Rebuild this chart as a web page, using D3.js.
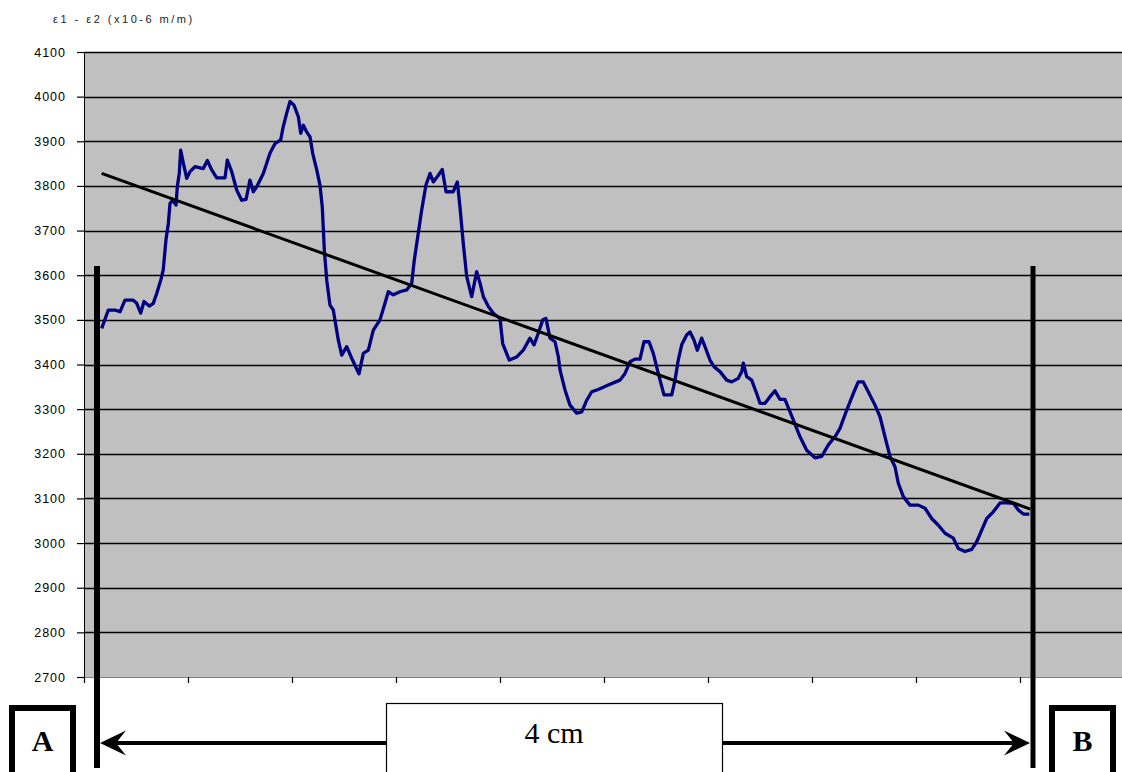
<!DOCTYPE html>
<html>
<head>
<meta charset="utf-8">
<script src="https://cdn.jsdelivr.net/npm/d3@7"></script>
<style>
  html, body { margin: 0; padding: 0; background: #fff; }
  svg { display: block; }
</style>
</head>
<body>
<script>
// ---- data (position in category-tick units, strain in x10-6 m/m) ----
const position = [
  0.170,0.234,0.298,0.346,0.394,0.474,0.507,0.545,0.577,0.628,0.666,0.699,0.738,0.762,0.788,0.811,0.827,0.853,0.885,0.897,
  0.916,0.930,0.955,0.988,1.019,1.067,1.147,1.186,1.228,1.276,1.356,1.378,1.420,1.468,1.516,1.558,1.596,1.628,1.661,1.724,
  1.788,1.837,1.891,1.916,1.949,1.981,2.019,2.061,2.084,2.109,2.141,2.173,2.199,2.238,2.269,2.291,2.311,2.334,2.365,2.397,
  2.445,2.478,2.526,2.574,2.644,2.686,2.734,2.782,2.846,2.894,2.926,2.974,3.038,3.103,3.151,3.176,3.214,3.247,3.288,3.327,
  3.359,3.407,3.445,3.481,3.551,3.590,3.615,3.647,3.680,3.728,3.776,3.808,3.840,3.888,3.936,4.000,4.026,4.089,4.161,4.224,
  4.288,4.327,4.368,4.411,4.442,4.481,4.529,4.561,4.577,4.625,4.673,4.737,4.786,4.834,4.882,4.945,5.041,5.154,5.202,5.250,
  5.298,5.346,5.385,5.433,5.474,5.522,5.564,5.577,5.651,5.683,5.714,5.747,5.795,5.827,5.865,5.897,5.939,5.971,6.019,6.058,
  6.115,6.180,6.228,6.291,6.324,6.340,6.372,6.420,6.468,6.500,6.548,6.596,6.644,6.692,6.740,6.782,6.820,6.885,6.949,7.029,
  7.093,7.157,7.221,7.269,7.334,7.397,7.445,7.493,7.541,7.606,7.654,7.702,7.750,7.798,7.830,7.878,7.942,8.022,8.087,8.151,
  8.215,8.279,8.359,8.407,8.471,8.536,8.584,8.632,8.680,8.743,8.808,8.872,8.936,8.984,9.032,9.090
];
const strain = [
  3481,3522,3522,3518,3544,3544,3537,3515,3541,3531,3537,3559,3589,3612,3679,3716,3761,3768,3757,3798,
  3828,3880,3851,3817,3832,3843,3839,3857,3836,3818,3818,3858,3832,3791,3768,3770,3813,3787,3798,3828,
  3873,3895,3903,3933,3963,3989,3981,3955,3918,3936,3921,3910,3873,3836,3802,3753,3656,3589,3533,3522,
  3455,3421,3440,3414,3379,3425,3432,3477,3500,3537,3563,3556,3563,3567,3582,3634,3694,3746,3802,3828,
  3809,3824,3837,3787,3787,3809,3753,3671,3597,3552,3608,3582,3552,3530,3515,3503,3447,3410,3417,3432,
  3459,3444,3470,3500,3503,3459,3451,3417,3388,3343,3309,3291,3294,3320,3339,3344,3354,3365,3380,3406,
  3412,3412,3451,3451,3425,3380,3343,3332,3332,3365,3410,3444,3466,3473,3455,3432,3459,3440,3410,3395,
  3384,3365,3361,3369,3384,3403,3373,3365,3335,3313,3313,3328,3341,3322,3322,3298,3276,3238,3208,3191,
  3194,3220,3238,3257,3298,3335,3361,3361,3339,3309,3283,3238,3194,3171,3134,3104,3085,3085,3078,3055,
  3040,3022,3011,2988,2981,2986,3003,3029,3055,3070,3090,3090,3089,3074,3065,3065
];
const trendPosition = [0.17, 9.10];
const trendStrain = [3828, 3076];
const yTicks = [2700, 2800, 2900, 3000, 3100, 3200, 3300, 3400, 3500, 3600, 3700, 3800, 3900, 4000, 4100];
const yTickLabels = ["2700","2800","2900","3000","3100","3200","3300","3400","3500","3600","3700","3800","3900","4000","4100"];
const xTicks = [0, 1, 2, 3, 4, 5, 6, 7, 8, 9, 10];
const markerPositions = [0.125, 9.125];
const markerLabels = ["A", "B"];
const axisTitle = "ε1 - ε2 (x10-6 m/m)";
const spanLabel = "4 cm";

// ---- layout ----
const W = 1122, H = 772;
const plot = { left: 84, top: 52, right: 1124, bottom: 677 };

const svg = d3.select("body").append("svg").attr("width", W).attr("height", H);

const x = d3.scaleLinear().domain([0, 10]).range([plot.left, plot.right]);
const y = d3.scaleLinear().domain([2700, 4100]).range([plot.bottom, plot.top]);

// plot background
svg.append("rect")
  .attr("x", plot.left).attr("y", plot.top)
  .attr("width", plot.right - plot.left).attr("height", plot.bottom - plot.top)
  .attr("fill", "#c0c0c0");

// gridlines
svg.append("g").selectAll("line").data(yTicks.slice(1)).join("line")
  .attr("x1", plot.left).attr("x2", plot.right)
  .attr("y1", d => Math.round(y(d)) + 0.5).attr("y2", d => Math.round(y(d)) + 0.5)
  .attr("stroke", "#000").attr("stroke-width", 1.4);

// y axis
const yAxis = d3.axisLeft(y).tickValues(yTicks).tickSize(7).tickPadding(11)
  .tickFormat((d, i) => yTickLabels[i]);
const gy = svg.append("g").attr("transform", `translate(${plot.left},0)`).call(yAxis);
gy.select(".domain").attr("stroke", "#000").attr("stroke-width", 1);
gy.selectAll(".tick line").attr("stroke", "#000").attr("stroke-width", 1.2);
gy.selectAll(".tick text")
  .attr("font-family", "Arial, 'Liberation Sans', sans-serif")
  .attr("font-size", 12.5).attr("letter-spacing", "1px").attr("fill", "#000");

// x axis (unlabelled category ticks)
const xAxis = d3.axisBottom(x).tickValues(xTicks).tickSize(6).tickFormat("");
const gx = svg.append("g").attr("transform", `translate(0,${plot.bottom})`).call(xAxis);
gx.select(".domain").attr("stroke", "#808080").attr("stroke-width", 1);
gx.selectAll(".tick line").attr("stroke", "#000").attr("stroke-width", 1.2);

// axis title
svg.append("text")
  .attr("x", 53).attr("y", 23)
  .attr("font-family", "Arial, 'Liberation Sans', sans-serif")
  .attr("font-size", 11).attr("letter-spacing", "2.5px").attr("fill", "#222")
  .text(axisTitle);

// data line
const pts = position.map((p, i) => [p, strain[i]]);
svg.append("path")
  .datum(pts)
  .attr("fill", "none").attr("stroke", "#000080").attr("stroke-width", 3.3)
  .attr("stroke-linejoin", "round")
  .attr("d", d3.line().x(d => x(d[0])).y(d => y(d[1])));

// trend line
svg.append("path")
  .datum(trendPosition.map((p, i) => [p, trendStrain[i]]))
  .attr("fill", "none").attr("stroke", "#000").attr("stroke-width", 3)
  .attr("d", d3.line().x(d => x(d[0])).y(d => y(d[1])));

// vertical markers A / B
const markerTop = 266, markerBottom = 768;
svg.append("g").selectAll("line").data(markerPositions).join("line")
  .attr("x1", d => x(d)).attr("x2", d => x(d))
  .attr("y1", markerTop).attr("y2", markerBottom)
  .attr("stroke", "#000").attr("stroke-width", (d, i) => i === 0 ? 6 : 5);

// horizontal double arrow
const arrowY = 743;
const xa = x(markerPositions[0]) + 3, xb = x(markerPositions[1]) - 3;
svg.append("line").attr("x1", xa + 10).attr("x2", xb - 10)
  .attr("y1", arrowY).attr("y2", arrowY)
  .attr("stroke", "#000").attr("stroke-width", 4);
function arrowHead(tipX, dir) {
  const L = 26, Hh = 12.5, notch = 16;
  return `M${tipX},${arrowY} L${tipX + dir * L},${arrowY - Hh} L${tipX + dir * notch},${arrowY} L${tipX + dir * L},${arrowY + Hh} Z`;
}
svg.append("path").attr("d", arrowHead(xa, 1)).attr("fill", "#000");
svg.append("path").attr("d", arrowHead(xb, -1)).attr("fill", "#000");

// 4 cm box
svg.append("rect")
  .attr("x", 386.5).attr("y", 703.5).attr("width", 336).attr("height", 80)
  .attr("fill", "#fff").attr("stroke", "#000").attr("stroke-width", 1.2);
svg.append("text")
  .attr("x", 554).attr("y", 743)
  .attr("text-anchor", "middle")
  .attr("font-family", "'Liberation Serif', 'Times New Roman', serif")
  .attr("font-size", 30).attr("fill", "#000")
  .text(spanLabel);

// A / B boxes
const boxes = [{ cx: 42.5, label: markerLabels[0] }, { cx: 1082.5, label: markerLabels[1] }];
const bg = svg.append("g").selectAll("g").data(boxes).join("g");
bg.append("rect")
  .attr("x", d => d.cx - 30.5).attr("y", 708)
  .attr("width", 61).attr("height", 74)
  .attr("fill", "#fff").attr("stroke", "#000").attr("stroke-width", 6);
bg.append("text")
  .attr("x", d => d.cx).attr("y", 751)
  .attr("text-anchor", "middle")
  .attr("font-family", "'Liberation Serif', 'Times New Roman', serif")
  .attr("font-weight", "bold").attr("font-size", 30).attr("fill", "#000")
  .text(d => d.label);
</script>
</body>
</html>
